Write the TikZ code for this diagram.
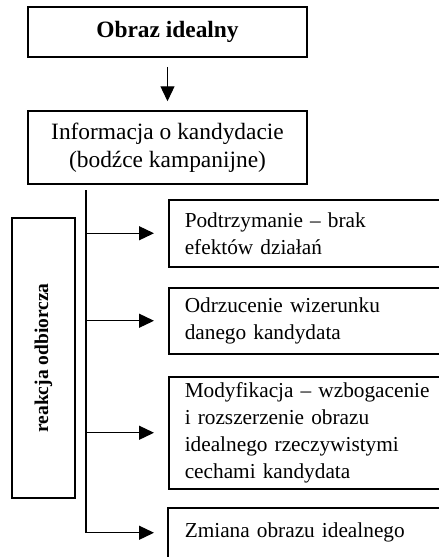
\documentclass[tikz,border=0pt]{standalone}
\usepackage{fontspec}
\setmainfont{Liberation Serif}
\usetikzlibrary{arrows.meta,calc}
\begin{document}
\begin{tikzpicture}[x=1pt,y=-1pt,
  line width=1.5pt,
  topbox/.style={draw, rectangle, minimum width=279pt, align=center, inner sep=0pt,
    font=\fontsize{23.4}{28}\selectfont},
  rbox/.style={draw, rectangle, anchor=north west, text width=258pt, inner xsep=16pt,
    inner ysep=0pt, align=left, font=\fontsize{21.3}{27}\selectfont},
  sidebox/.style={draw, rectangle, rotate=90, minimum width=280pt, minimum height=63pt,
    inner sep=0pt, font=\fontsize{19.5}{23}\selectfont\bfseries},
  arr/.style={-{Triangle[length=15pt,width=14pt]}, line width=1.3pt}
]
\clip (0,0) rectangle (439,557);
\fill[white] (0,0) rectangle (439,557);

\node[topbox, minimum height=50pt] (top) at (167.5,32) {\bfseries Obraz idealny};
\node[topbox, minimum height=73pt] (info) at (167.5,147.5) {Informacja o kandydacie\\(bodźce kampanijne)};
\draw[arr, shorten <=9pt, shorten >=9pt] (top.south) -- (info.north);

\node[sidebox] (side) at (43.5,358) {reakcja odbiorcza};

\node[rbox, minimum height=67pt] (b1) at (168,199) {Podtrzymanie – brak\\efektów działań};
\node[rbox, minimum height=66pt] (b2) at (168,287) {Odrzucenie wizerunku\\danego kandydata};
\node[rbox, minimum height=112pt] (b3) at (168,376) {\makebox[252pt][s]{Modyfikacja – wzbogacenie}\\i rozszerzenie obrazu\\idealnego rzeczywistymi\\cechami kandydata};
\node[rbox, draw=none, minimum height=48pt] (b4) at (168,508) {Zmiana obrazu idealnego};
\draw ($(b4.south west)+(0,20)$) -- (b4.north west) -- (b4.north east);

\coordinate (t1) at (86,190);
\coordinate (t2) at (t1 |- b4.west);
\draw[line width=1.3pt] (t1) -- (t2);
\draw[arr, shorten >=14pt] (t1 |- b1.west) -- (b1.west);
\draw[arr, shorten >=14pt] (t1 |- b2.west) -- (b2.west);
\draw[arr, shorten >=14pt] (t1 |- b3.west) -- (b3.west);
\draw[arr, shorten >=14pt] (t2) -- (b4.west);
\end{tikzpicture}
\end{document}
